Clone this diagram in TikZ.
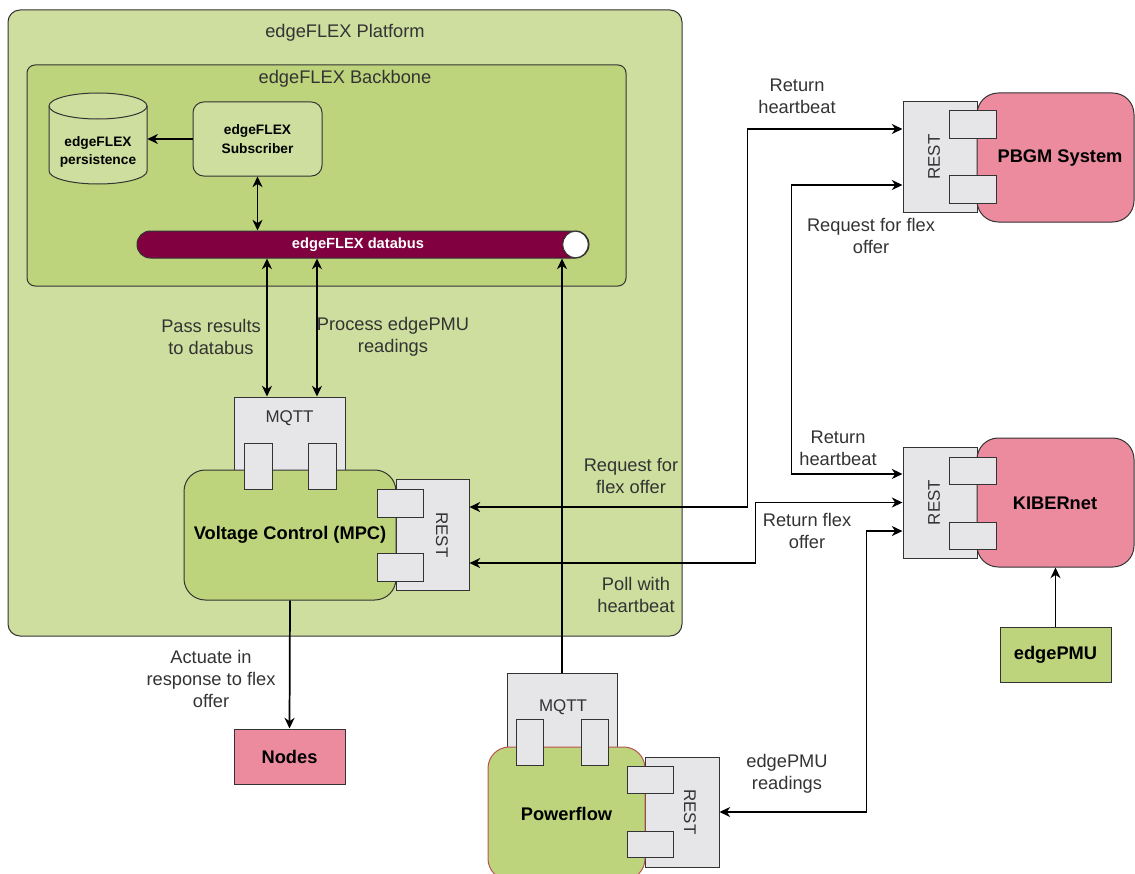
\documentclass[tikz,border=0pt]{standalone}
\usepackage{fontspec}
\setmainfont{Liberation Sans}
\usetikzlibrary{arrows.meta,calc}
\definecolor{lgreen}{RGB}{206,222,158}
\definecolor{mgreen}{RGB}{190,212,124}
\definecolor{pinkc}{RGB}{236,139,158}
\definecolor{portg}{RGB}{230,230,232}
\definecolor{busc}{RGB}{128,0,64}
\definecolor{edgec}{RGB}{51,51,51}
\definecolor{txtc}{RGB}{51,51,51}
\definecolor{pfedge}{RGB}{184,84,80}
\tikzset{
  sz/.style 2 args={minimum width=#1*0.75pt, minimum height=#2*0.75pt, inner sep=0pt},
  frame/.style={draw=edgec, line width=0.75pt},
  port/.style={frame, fill=portg},
  ptxt/.style={text=txtc, align=center, font=\fontsize{12.7}{16.5}\selectfont},
  lbl/.style={text=txtc, align=center, font=\fontsize{13.7}{16.5}\selectfont},
  bold/.style={text=black, align=center, font=\fontsize{13.7}{16.5}\selectfont\bfseries},
  sbold/.style={text=black, align=center, font=\fontsize{10.3}{14}\selectfont\bfseries},
  tip/.tip={Stealth[length=8pt,width=7.5pt,inset=2.5pt]},
  arr/.style={line width=1.3pt, draw=black, -tip},
  darr/.style={line width=1.3pt, draw=black, tip-tip},
}
\begin{document}
\begin{tikzpicture}[x=0.75pt,y=-0.75pt]
\useasboundingbox (0,0) rectangle (1135,874);
% platform and backbone
\node[frame, fill=lgreen, rounded corners=9pt, sz={674}{626}] (platform) at (345,323) {};
\node[lbl] (platformt) at (345,33) {edgeFLEX Platform};
\node[frame, fill=mgreen, rounded corners=6pt, sz={599}{221}] (backbone) at (326.5,175.5) {};
\node[lbl] (backbonet) at (345,79) {edgeFLEX Backbone};
% persistence cylinder
\draw[frame, fill=lgreen] (49,106) -- (49,171) arc[start angle=180, end angle=360, x radius=36.75pt, y radius=9.75pt] -- (147,106);
\draw[frame, fill=lgreen] (98,106) ellipse[x radius=36.75pt, y radius=9.75pt];
\node[sbold, minimum width=98*0.75pt, inner sep=0pt] (persist) at (98,152) {edgeFLEX\\persistence};
% subscriber
\node[frame, fill=lgreen, rounded corners=8pt, sz={129}{74}, sbold] (sub) at (257.5,139) {edgeFLEX\\Subscriber};
% databus
\node[draw=edgec, line width=0.75pt, fill=busc, rounded corners=10pt, sz={452}{27}] (bus) at (363,244.5) {};
\draw[draw=edgec, line width=0.75pt, fill=white] (575.5,244.5) ellipse[x radius=9.5pt, y radius=10pt];
\node[text=white, font=\fontsize{11}{13}\selectfont\bfseries] (bust) at (358,244.5) {edgeFLEX databus};
% voltage control
\node[port, sz={111}{73}] (mq1) at (289.5,433.5) {};
\node[ptxt] (mq1t) at (289.5,418) {MQTT};
\node[port, sz={73}{111}] (rest1) at (432.5,534.5) {};
\node[ptxt, rotate=-90] (rest1t) at (442,535) {REST};
\node[frame, fill=mgreen, rounded corners=16pt, sz={212}{130}, bold] (vc) at (290,535) {Voltage Control (MPC)};
\node[port, sz={28}{46}] (mq1a) at (258,466) {};
\node[port, sz={28}{46}] (mq1b) at (322,466) {};
\node[port, sz={46}{28}] (rest1a) at (400,503) {};
\node[port, sz={46}{28}] (rest1b) at (400,567) {};
% nodes
\node[frame, fill=pinkc, sz={111}{55}, bold] (nodes) at (289.5,756.5) {Nodes};
% powerflow
\node[port, sz={110}{74}] (mq2) at (562,710) {};
\node[ptxt] (mq2t) at (563,707) {MQTT};
\node[port, sz={74}{110}] (rest3) at (682,812) {};
\node[ptxt, rotate=-90] (rest3t) at (690,812) {REST};
\node[draw=pfedge, line width=0.75pt, fill=mgreen, rounded corners=16pt, sz={157}{133}, bold] (pf) at (566.5,813.5) {Powerflow};
\node[port, sz={27}{46}] (mq2a) at (529.5,742) {};
\node[port, sz={27}{46}] (mq2b) at (594.5,742) {};
\node[port, sz={46}{27}] (rest3a) at (650,779.5) {};
\node[port, sz={46}{26}] (rest3b) at (650,844) {};
% PBGM
\node[port, sz={74}{110}] (rest2) at (940,157) {};
\node[ptxt, rotate=90] (rest2t) at (934,157) {REST};
\node[frame, fill=pinkc, rounded corners=16pt, sz={157}{129}] (pbgm) at (1055.5,157.5) {};
\node[bold] (pbgmt) at (1060,158) {PBGM System};
\node[port, sz={47}{28}] (rest2a) at (972.5,124.5) {};
\node[port, sz={47}{28}] (rest2b) at (972.5,189) {};
% KIBERnet
\node[port, sz={74}{111}] (rest4) at (940,502.5) {};
\node[ptxt, rotate=90] (rest4t) at (934,502.5) {REST};
\node[frame, fill=pinkc, rounded corners=16pt, sz={157}{129}] (kib) at (1055.5,502.5) {};
\node[bold] (kibt) at (1055,503) {KIBERnet};
\node[port, sz={47}{27}] (rest4a) at (972.5,470.5) {};
\node[port, sz={47}{27}] (rest4b) at (972.5,535.5) {};
% edgePMU
\node[frame, fill=mgreen, sz={111}{55}, bold] (pmu) at (1055.5,654.5) {edgePMU};
% connectors
\draw[arr] (sub.west) -- (sub.west -| persist.east);
\draw[darr] (sub.south) -- (sub.south |- bus.north);
\draw[darr] ([xshift=-16.9pt]mq1.north) -- ([xshift=-16.9pt]mq1.north |- bus.south);
\draw[darr] ([xshift=20.6pt]mq1.north) -- ([xshift=20.6pt]mq1.north |- bus.south);
\draw[arr] (mq2.north) -- (mq2.north |- bus.south);
\draw[arr] (vc.south) -- (nodes.north);
\draw[arr] (pmu.north) -- (kib.south);
\draw[darr] ([yshift=20.6pt]rest1.east) -- ++(278,0) |- ([yshift=21pt]rest2.west);
\draw[darr] ([yshift=-21.4pt]rest1.east) -- ++(286,0) |- (rest4.west);
\draw[darr] ([yshift=-21pt]rest2.west) -- ++(-111,0) |- ([yshift=21.4pt]rest4.west);
\draw[darr] ([yshift=-21.4pt]rest4.west) -- ++(-36,0) |- (rest3.east);
% connector labels
\node[lbl] (l1) at (211,337) {Pass results\\to databus};
\node[lbl] (l2) at (393,337) {Process edgePMU\\readings};
\node[lbl] (l3) at (631,476) {Request for\\flex offer};
\node[lbl] (l4) at (636,595) {Poll with\\heartbeat};
\node[lbl] (l5) at (211,679) {Actuate in\\response to flex\\offer};
\node[lbl] (l6) at (797,96) {Return\\heartbeat};
\node[lbl] (l7) at (871,236) {Request for flex\\offer};
\node[lbl] (l8) at (838,448) {Return\\heartbeat};
\node[lbl] (l9) at (807,531) {Return flex\\offer};
\node[lbl] (l10) at (787,774) {edgePMU\\readings};
\end{tikzpicture}
\end{document}
